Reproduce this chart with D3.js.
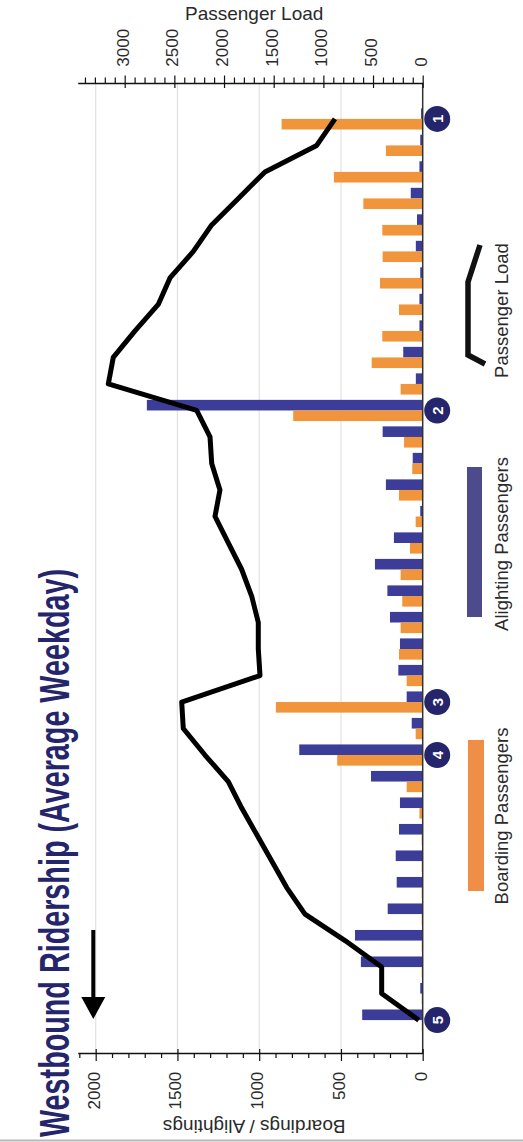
<!DOCTYPE html>
<html>
<head>
<meta charset="utf-8">
<script src="https://cdn.jsdelivr.net/npm/d3@7"></script>
<style>
  body { margin: 0; background: #fff; }
  svg { display: block; font-family: "Liberation Sans", Arial, sans-serif; }
</style>
</head>
<body>
<script>
// stops along the route, in order of travel (timepoint 1 first)
const stopIds = [
  0, 1, 2, 3, 4, 5, 6, 7, 8, 9, 10, 11, 12, 13, 14, 15, 16, 17,
  18, 19, 20, 21, 22, 23, 24, 25, 26, 27, 28, 29, 30, 31, 32, 33, 34,
]
const boardings = [
  863, 225, 543, 363, 247, 245, 261, 145, 247, 312, 135, 792, 114, 64, 145, 43, 78, 135,
  125, 135, 145, 98, 898, 43, 523, 98, 20, 6, 6, 6, 6, 6, 6, 6, 6,
]
const alightings = [
  10, 15, 20, 73, 35, 42, 15, 20, 20, 119, 42, 1687, 245, 61, 225, 15, 176, 292,
  216, 200, 139, 149, 98, 67, 755, 316, 139, 145, 165, 159, 214, 414, 378, 15, 370,
]
const passengerLoad = [
  883, 1067, 1588, 1856, 2124, 2309, 2544, 2662, 2896, 3115, 3165, 2275, 2141, 2124, 2041, 2091, 1957, 1822,
  1722, 1655, 1655, 1638, 2426, 2410, 2192, 1957, 1822, 1671, 1520, 1369, 1185, 782, 413, 413, 40,
]
const timepointStops = [0, 11, 22, 24, 34]
const timepointLabels = ["1", "2", "3", "4", "5"]

const ridershipTicks = [0, 500, 1000, 1500, 2000]
const loadTicks = [0, 500, 1000, 1500, 2000, 2500, 3000]
const ridershipMax = 2110
const loadMax = 3473

function drawChart() {
  const dimensions = {
    width: 523,
    height: 1142,
    margin: { top: 83, right: 100.3, bottom: 89, left: 77.7 },
  }
  dimensions.boundedWidth = dimensions.width - dimensions.margin.left - dimensions.margin.right
  dimensions.boundedHeight = dimensions.height - dimensions.margin.top - dimensions.margin.bottom

  const colors = {
    board: "#f0953b",
    alight: "#3b3d98",
    navy: "#25256b",
    text: "#2a2a2a",
  }

  const wrapper = d3.select("body")
    .append("svg")
      .attr("width", dimensions.width)
      .attr("height", dimensions.height)

  // faint frame line at the very bottom of the picture
  wrapper.append("line")
      .attr("x1", 0).attr("x2", dimensions.width)
      .attr("y1", dimensions.height - 1.5).attr("y2", dimensions.height - 1.5)
      .attr("stroke", "#b8b8b8")
      .attr("stroke-width", 2)

  const bounds = wrapper.append("g")
      .attr("transform", `translate(${dimensions.margin.left}, ${dimensions.margin.top})`)

  // scales (values grow to the left, zero on the right edge)
  const ridershipScale = d3.scaleLinear()
    .domain([0, ridershipMax])
    .range([dimensions.boundedWidth, 0])

  const loadScale = d3.scaleLinear()
    .domain([0, loadMax])
    .range([dimensions.boundedWidth, 0])

  const stopScale = d3.scaleBand()
    .domain(stopIds)
    .range([103 - dimensions.margin.top, 1036 - dimensions.margin.top])
    .padding(0.2)

  const pairScale = d3.scaleBand()
    .domain(["alightings", "boardings"])
    .range([0, stopScale.bandwidth()])

  const stopCenter = d => stopScale(d) + stopScale.bandwidth() / 2

  // gridlines
  bounds.append("g")
    .selectAll("line")
    .data(ridershipTicks.filter(d => d > 0))
    .join("line")
      .attr("x1", d => ridershipScale(d))
      .attr("x2", d => ridershipScale(d))
      .attr("y1", 0)
      .attr("y2", dimensions.boundedHeight)
      .attr("stroke", "#e2e2e2")
      .attr("stroke-width", 1.2)

  // bars
  bounds.append("g")
    .selectAll("rect")
    .data(stopIds)
    .join("rect")
      .attr("x", d => ridershipScale(alightings[d]))
      .attr("y", d => stopScale(d) + pairScale("alightings"))
      .attr("width", d => ridershipScale(0) - ridershipScale(alightings[d]))
      .attr("height", pairScale.bandwidth())
      .attr("fill", colors.alight)

  bounds.append("g")
    .selectAll("rect")
    .data(stopIds)
    .join("rect")
      .attr("x", d => ridershipScale(boardings[d]))
      .attr("y", d => stopScale(d) + pairScale("boardings"))
      .attr("width", d => ridershipScale(0) - ridershipScale(boardings[d]))
      .attr("height", pairScale.bandwidth())
      .attr("fill", colors.board)

  // zero line
  bounds.append("line")
      .attr("x1", ridershipScale(0)).attr("x2", ridershipScale(0))
      .attr("y1", 0).attr("y2", dimensions.boundedHeight)
      .attr("stroke", "#333")
      .attr("stroke-width", 1.5)

  // passenger load line
  const lineGenerator = d3.line()
    .x(d => loadScale(passengerLoad[d]))
    .y(d => stopCenter(d))

  bounds.append("path")
      .attr("d", lineGenerator(stopIds))
      .attr("fill", "none")
      .attr("stroke", "#000")
      .attr("stroke-width", 5)
      .attr("stroke-linejoin", "round")

  // timepoint markers
  const markers = bounds.append("g")
    .selectAll("g")
    .data(timepointStops)
    .join("g")
      .attr("transform", d => `translate(${dimensions.boundedWidth + 14.5}, ${stopCenter(d)})`)

  markers.append("circle")
      .attr("r", 13)
      .attr("fill", colors.navy)

  markers.append("text")
      .attr("transform", "rotate(-90)")
      .attr("text-anchor", "middle")
      .attr("dy", "0.36em")
      .attr("fill", "#fff")
      .style("font-size", "15px")
      .style("font-weight", "bold")
      .text((d, i) => timepointLabels[i])

  // axes
  const tickSplit = (axis, outer, inner, minorLen, dir) => {
    axis.select(".domain").attr("stroke", "#111").attr("stroke-width", 1.3)
    axis.selectAll(".tick line")
      .attr("stroke", "#111")
      .attr("stroke-width", 1.2)
      .attr("y1", d => d % 500 === 0 ? -inner * dir : 0)
      .attr("y2", d => d % 500 === 0 ? outer * dir : minorLen * dir)
  }

  const loadAxisGenerator = d3.axisTop()
    .scale(loadScale)
    .tickValues(d3.range(0, loadMax, 100))
    .tickSizeOuter(0)
    .tickFormat(d => loadTicks.includes(d) ? d : "")

  const loadAxis = bounds.append("g")
    .call(loadAxisGenerator)
  tickSplit(loadAxis, 7.5, 5, 5.5, -1)
  loadAxis.selectAll(".tick text")
      .attr("x", 0).attr("y", 0)
      .attr("dy", "0.2em")
      .attr("transform", "translate(0, -16.3) rotate(-90)")
      .attr("fill", colors.text)
      .style("text-anchor", "start")
      .style("font-size", "17px")

  loadAxis.append("text")
      .attr("x", dimensions.boundedWidth / 2 + 4)
      .attr("y", 20 - dimensions.margin.top)
      .attr("fill", colors.text)
      .style("text-anchor", "middle")
      .style("font-size", "19px")
      .text("Passenger Load")

  const ridershipAxisGenerator = d3.axisBottom()
    .scale(ridershipScale)
    .tickValues(d3.range(0, ridershipMax, 100))
    .tickSizeOuter(0)
    .tickFormat(d => ridershipTicks.includes(d) ? d : "")

  const ridershipAxis = bounds.append("g")
      .attr("transform", `translate(0, ${dimensions.boundedHeight})`)
    .call(ridershipAxisGenerator)
  tickSplit(ridershipAxis, 8, 4, 5, 1)
  ridershipAxis.selectAll(".tick text")
      .attr("x", 0).attr("y", 0)
      .attr("dy", "0.2em")
      .attr("transform", "translate(0, 18.7) rotate(-90)")
      .attr("fill", colors.text)
      .style("text-anchor", "end")
      .style("font-size", "17px")

  ridershipAxis.append("text")
      .attr("transform", `translate(${dimensions.boundedWidth / 2 + 4}, 67) rotate(180)`)
      .attr("fill", colors.text)
      .style("text-anchor", "middle")
      .style("font-size", "19px")
      .text("Boardings / Alightings")

  // title
  wrapper.append("text")
      .attr("transform", "translate(68.5, 1137) rotate(-90)")
      .attr("fill", colors.navy)
      .attr("textLength", 568)
      .attr("lengthAdjust", "spacingAndGlyphs")
      .style("font-size", "42px")
      .style("font-weight", "bold")
      .text("Westbound Ridership (Average Weekday)")

  // direction of travel arrow
  const arrow = wrapper.append("g")
      .attr("transform", "translate(93.3, 930)")
  arrow.append("line")
      .attr("y1", 0).attr("y2", 70)
      .attr("stroke", "#000")
      .attr("stroke-width", 4)
  arrow.append("path")
      .attr("d", "M-12,67 L12,67 L0,89 Z")
      .attr("fill", "#000")

  // legend
  const legend = wrapper.append("g")
  const legendLine = d3.line()
  legend.append("path")
      .attr("d", legendLine([[480, 245], [468, 282], [468, 355], [485, 364]]))
      .attr("fill", "none")
      .attr("stroke", "#111")
      .attr("stroke-width", 5.5)

  legend.append("rect")
      .attr("x", 467).attr("y", 467)
      .attr("width", 15).attr("height", 150)
      .attr("fill", "#4d4b8b")

  legend.append("rect")
      .attr("x", 468).attr("y", 740)
      .attr("width", 16).attr("height", 151)
      .attr("fill", "#ef8e47")

  const legendLabels = [
    { text: "Passenger Load", y: 310.5 },
    { text: "Alighting Passengers", y: 544 },
    { text: "Boarding Passengers", y: 816 },
  ]
  legend.selectAll("text")
    .data(legendLabels)
    .join("text")
      .attr("transform", d => `translate(508, ${d.y}) rotate(-90)`)
      .attr("fill", colors.text)
      .style("text-anchor", "middle")
      .style("font-size", "18.5px")
      .text(d => d.text)
}
drawChart()
</script>
</body>
</html>
